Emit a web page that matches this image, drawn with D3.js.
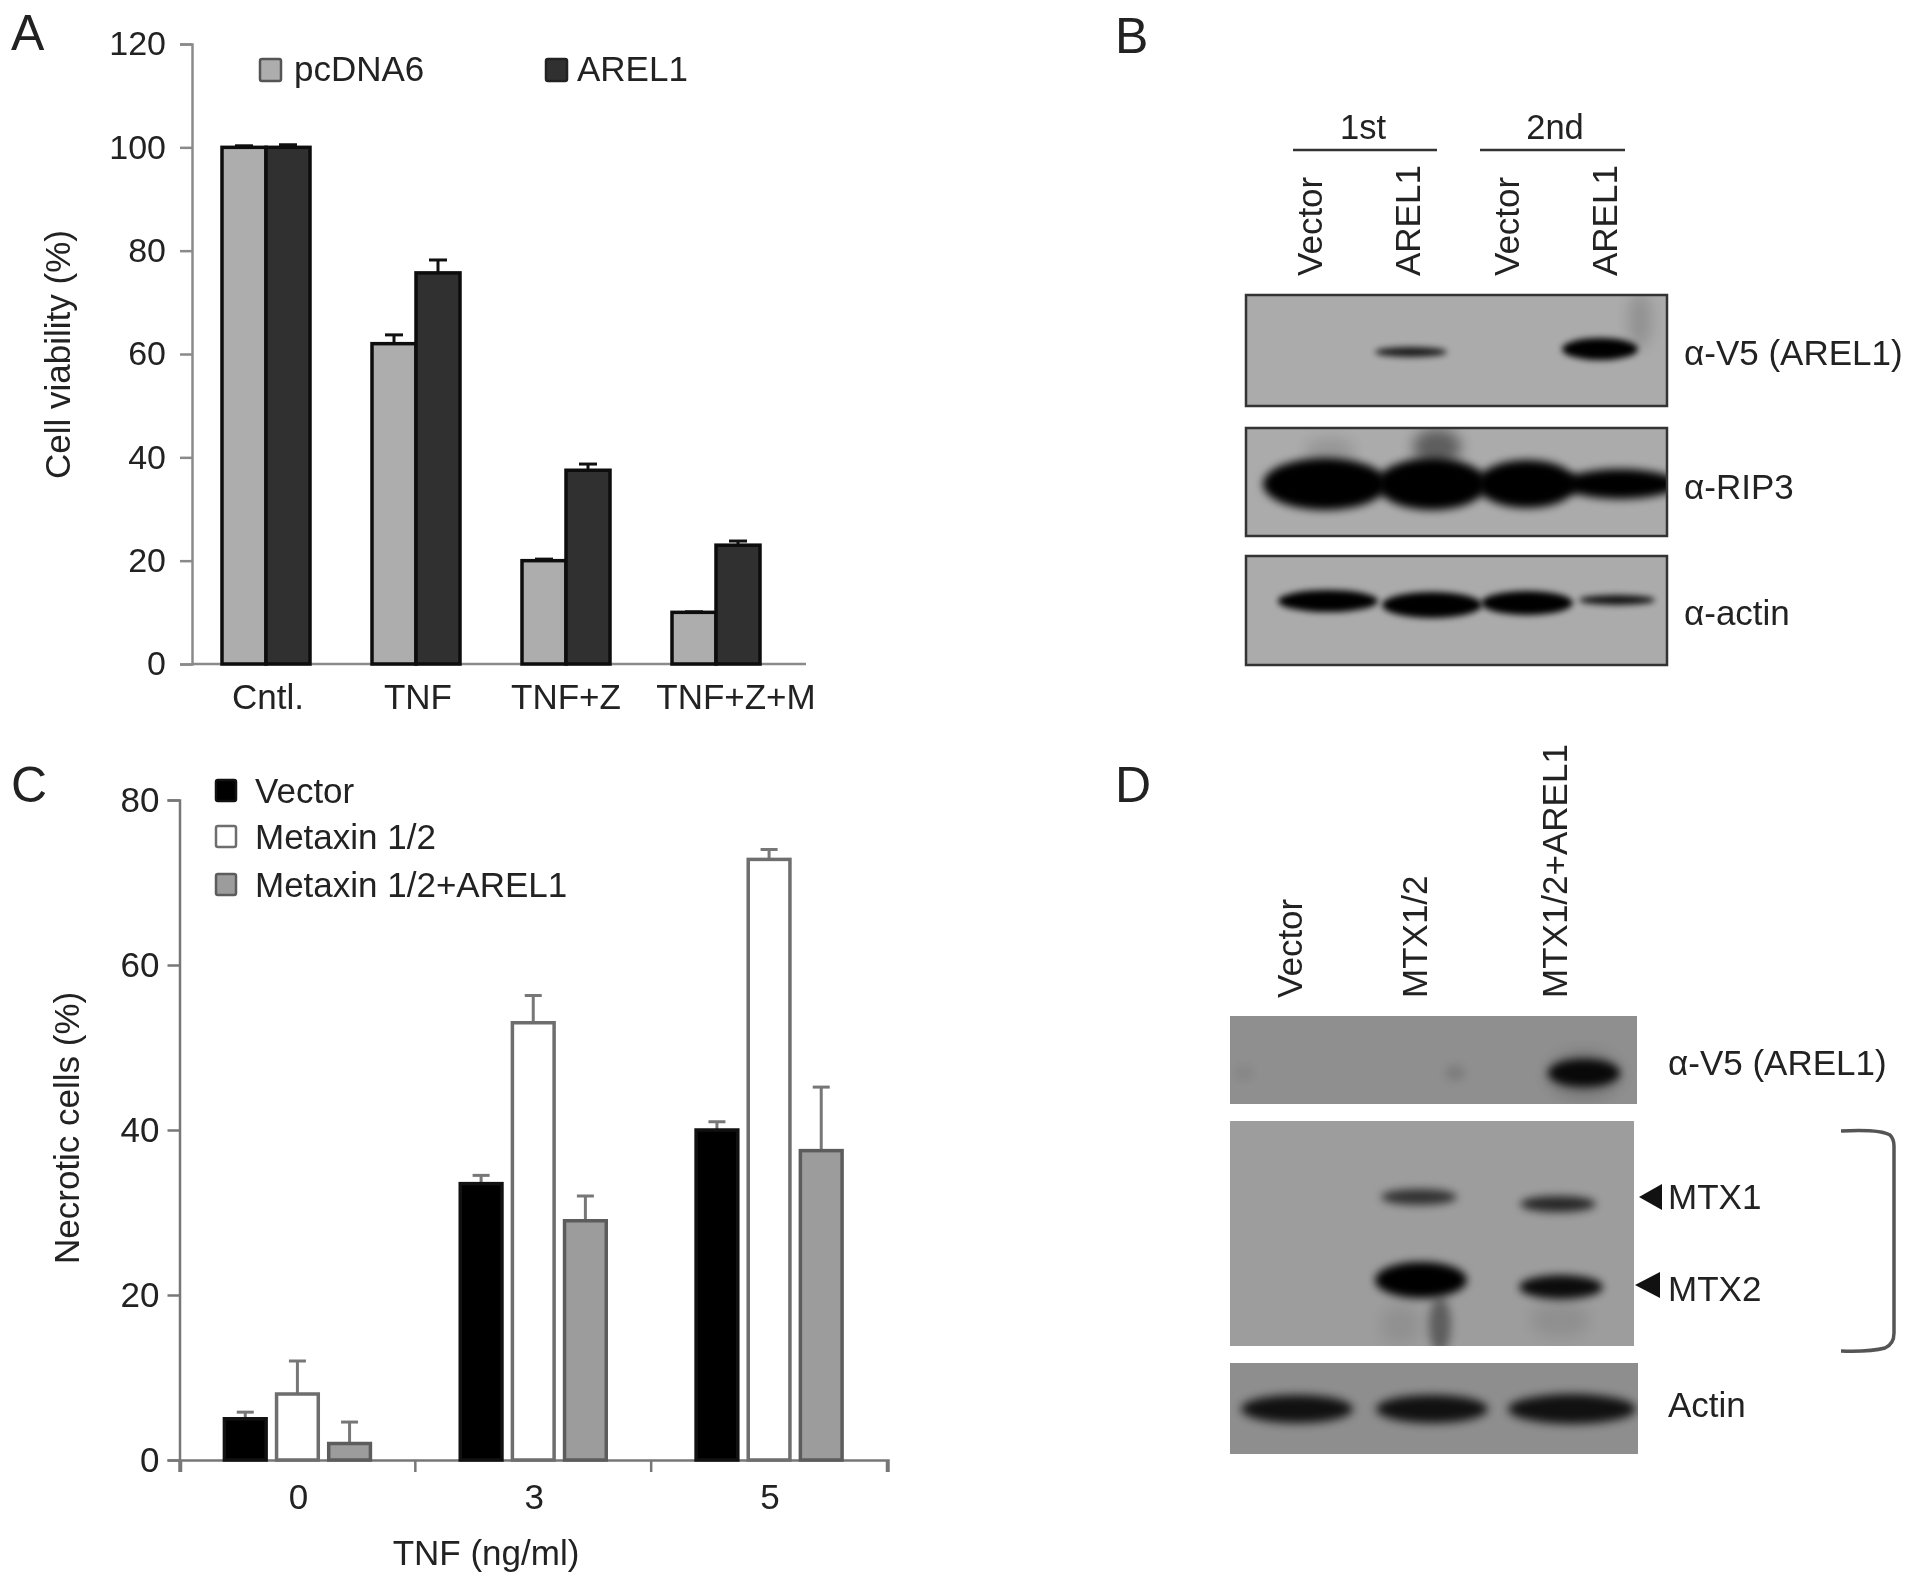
<!DOCTYPE html>
<html><head><meta charset="utf-8">
<script src="https://cdn.jsdelivr.net/npm/d3@7"></script>
<style>
html,body{margin:0;padding:0;background:#fff}
svg{display:block;filter:blur(0.6px)}
text{font-family:"Liberation Sans",Arial,sans-serif;fill:#222}
</style></head><body>
<svg id="fig" width="1913" height="1586"></svg>
<script>
// ---------- Panel A data ----------
const catsA = ["Cntl.","TNF","TNF+Z","TNF+Z+M"];
const seriesA = ["pcDNA6","AREL1"];
const pcDNA6 = [100,62,20,10];
const arel1 = [100,75.7,37.5,23];
const pcDNA6Err = [0.3,1.7,0.3,0.1];
const arel1Err = [0.5,2.5,1.2,0.8];
const ticksA = [0,20,40,60,80,100,120];
// ---------- Panel C data ----------
const catsC = ["0","3","5"];
const seriesC = ["Vector","Metaxin 1/2","Metaxin 1/2+AREL1"];
const vector = [5,33.5,40];
const metaxin = [8,53,72.8];
const metaxinArel = [2,29,37.5];
const vectorErr = [0.8,1,1];
const metaxinErr = [4,3.3,1.2];
const metaxinArelErr = [2.6,3,7.7];
const ticksC = [0,20,40,60,80];
// ---------- Blot labels ----------
const lanesB = ["Vector","AREL1","Vector","AREL1"];
const groupsB = ["1st","2nd"];
const probesB = ["α-V5 (AREL1)","α-RIP3","α-actin"];
const lanesD = ["Vector","MTX1/2","MTX1/2+AREL1"];
const probesD = ["α-V5 (AREL1)","MTX1","MTX2","Actin"];
// band densities per lane, read by eye
const densV5B = [0,0.85,0,1];
const densRIP3 = [1,1,1,1];
const densActinB = [1,1,1,0.9];
const densV5D = [0.05,0.12,0.92];
const densMTX1 = [0,0.68,0.75];
const densMTX2 = [0,1,0.92];
const densActinD = [0.88,0.88,0.88];

const svg = d3.select("#fig");
const FS = 35;
const defs = svg.append("defs");
[2,3,4,5,7,10].forEach(s=>{
  defs.append("filter").attr("id","b"+s).attr("x","-40%").attr("y","-150%").attr("width","180%").attr("height","400%")
    .append("feGaussianBlur").attr("stdDeviation",s);
});
function txt(g,x,y,s,o={}){
  const t=g.append("text").attr("x",x).attr("y",y).attr("font-size",o.size||FS).attr("text-anchor",o.anchor||"start").text(s);
  if(o.rot!=null) t.attr("transform",`rotate(${o.rot} ${x} ${y})`);
  return t;
}
// panel letters
const letterPos=[["A",11,50],["B",1115,53],["C",11,802],["D",1115,802]];
letterPos.forEach(d=>txt(svg,d[1],d[2],d[0],{size:50}));

// ========== Panel A ==========
(function(){
  const g=svg.append("g");
  const y=d3.scaleLinear().domain([0,120]).range([664,44]);
  const x=d3.scalePoint().domain(catsA).range([266,716]);
  const bw=44;
  const axC="#8a8a8a";
  const ax=g.append("g").attr("transform","translate(192,0)").call(d3.axisLeft(y).tickValues(ticksA).tickSize(12).tickPadding(14));
  ax.select(".domain").attr("stroke",axC).attr("stroke-width",2.5);
  ax.selectAll(".tick line").attr("stroke",axC).attr("stroke-width",2.5);
  ax.selectAll(".tick text").attr("font-size",34).attr("font-family",null);
  g.append("line").attr("x1",192).attr("x2",806).attr("y1",y(0)).attr("y2",y(0)).attr("stroke",axC).attr("stroke-width",2.5);
  const series=[{v:pcDNA6,e:pcDNA6Err,c:"#adadad",off:-bw},{v:arel1,e:arel1Err,c:"#303030",off:0}];
  series.forEach(s=>{
    catsA.forEach((c,i)=>{
      const bx=x(c)+s.off, cx=bx+bw/2, top=y(s.v[i]), et=y(s.v[i]+s.e[i]);
      g.append("line").attr("x1",cx).attr("x2",cx).attr("y1",top).attr("y2",et).attr("stroke","#111").attr("stroke-width",3);
      g.append("line").attr("x1",cx-9).attr("x2",cx+9).attr("y1",et).attr("y2",et).attr("stroke","#111").attr("stroke-width",3);
      g.append("rect").attr("x",bx).attr("y",top).attr("width",bw).attr("height",y(0)-top).attr("fill",s.c).attr("stroke","#0d0d0d").attr("stroke-width",3.5);
    });
  });
  const nudge=[2,2,0,20];
  catsA.forEach((c,i)=>txt(g,x(c)+nudge[i],709,c,{anchor:"middle"}));
  txt(g,70,479,"Cell viability (%)",{rot:-90,size:35});
  const lx=[[260,294],[546,577]];
  seriesA.forEach((s,i)=>{
    g.append("rect").attr("x",lx[i][0]).attr("y",59).attr("width",21).attr("height",22).attr("rx",2)
      .attr("fill",i?"#303030":"#adadad").attr("stroke",i?"#222":"#555").attr("stroke-width",2.5);
    txt(g,lx[i][1],81,s);
  });
})();

// ========== Panel C ==========
(function(){
  const g=svg.append("g");
  const y=d3.scaleLinear().domain([0,80]).range([1460,800]);
  const x=d3.scaleBand().domain(catsC).range([179.5,887]);
  const inner=d3.scaleBand().domain(seriesC).range([-73,73]).paddingInner(0.2).paddingOuter(0);
  const axC="#777";
  const ay=g.append("g").attr("transform","translate(179.5,0)").call(d3.axisLeft(y).tickValues(ticksC).tickSize(12).tickPadding(8));
  ay.select(".domain").attr("stroke",axC).attr("stroke-width",2.5);
  ay.selectAll(".tick line").attr("stroke",axC).attr("stroke-width",2.5);
  ay.selectAll(".tick text").attr("font-size",FS);
  const ax=g.append("g").attr("transform","translate(1,1460)").call(d3.axisBottom(x).tickSize(0).tickPadding(24).tickSizeOuter(12));
  ax.select(".domain").attr("stroke",axC).attr("stroke-width",2.5);
  ax.selectAll(".tick text").attr("font-size",FS);
  const edges=[...catsC.map(c=>x(c)),x.range()[1]];
  g.selectAll("line.sep").data(edges).join("line").attr("x1",d=>d).attr("x2",d=>d).attr("y1",1460).attr("y2",1472).attr("stroke",axC).attr("stroke-width",2.5);
  const st=[{v:vector,e:vectorErr,f:"#000",s:"#111"},{v:metaxin,e:metaxinErr,f:"#fff",s:"#6e6e6e"},{v:metaxinArel,e:metaxinArelErr,f:"#9c9c9c",s:"#5c5c5c"}];
  st.forEach((s,j)=>{
    catsC.forEach((c,i)=>{
      const bx=x(c)+x.bandwidth()/2+inner(seriesC[j]), bw=inner.bandwidth(), cx=bx+bw/2, top=y(s.v[i]), et=y(s.v[i]+s.e[i]);
      g.append("line").attr("x1",cx).attr("x2",cx).attr("y1",top).attr("y2",et).attr("stroke","#777").attr("stroke-width",3);
      g.append("line").attr("x1",cx-8.5).attr("x2",cx+8.5).attr("y1",et).attr("y2",et).attr("stroke","#777").attr("stroke-width",3);
      g.append("rect").attr("x",bx).attr("y",top).attr("width",bw).attr("height",y(0)-top).attr("fill",s.f).attr("stroke",s.s).attr("stroke-width",3.5);
    });
  });
  txt(g,79,1264,"Necrotic cells (%)",{rot:-90,size:35});
  txt(g,486,1565,"TNF (ng/ml)",{anchor:"middle",size:35});
  seriesC.forEach((s,i)=>{
    const ly=[790,836,884][i];
    g.append("rect").attr("x",216).attr("y",ly-10).attr("width",20).attr("height",21).attr("rx",2)
      .attr("fill",st[i].f).attr("stroke",st[i].s).attr("stroke-width",2.5);
    txt(g,255,ly+13,s);
  });
})();

// ========== Blots ==========
function blot(f,bands,smears){
  const g=svg.append("g");
  const cid="c"+Math.round(f.x+f.y);
  defs.append("clipPath").attr("id",cid).append("rect").attr("x",f.x).attr("y",f.y).attr("width",f.w).attr("height",f.h);
  g.append("rect").attr("x",f.x).attr("y",f.y).attr("width",f.w).attr("height",f.h).attr("fill",f.bg);
  const inn=g.append("g").attr("clip-path",`url(#${cid})`);
  (smears||[]).forEach(s=>inn.append("ellipse").attr("cx",s[0]).attr("cy",s[1]).attr("rx",s[2]).attr("ry",s[3])
    .attr("fill","#000").attr("opacity",s[4]).attr("filter",`url(#b${s[5]||10})`));
  bands.forEach(b=>{
    if(!b.d) return;
    inn.append("ellipse").attr("cx",b.cx).attr("cy",b.cy).attr("rx",b.rx).attr("ry",b.ry)
      .attr("fill","#050505").attr("opacity",b.d).attr("filter",`url(#b${b.blur||3})`);
  });
  if(f.stroke) g.append("rect").attr("x",f.x).attr("y",f.y).attr("width",f.w).attr("height",f.h).attr("fill","none").attr("stroke",f.stroke).attr("stroke-width",2.5);
  return inn;
}
function row(centers,dens,cy,rx,ry,blur){
  return dens.map((d,i)=>({cx:centers[i],cy:Array.isArray(cy)?cy[i]:cy,rx:Array.isArray(rx)?rx[i]:rx,ry:Array.isArray(ry)?ry[i]:ry,d,blur}));
}

// Panel B
(function(){
  const g=svg.append("g");
  const gl=[[1293,1437],[1480,1625]];
  const glx=[1363,1555];
  groupsB.forEach((s,i)=>{
    g.append("line").attr("x1",gl[i][0]).attr("x2",gl[i][1]).attr("y1",150).attr("y2",150).attr("stroke","#333").attr("stroke-width",2.5);
    txt(g,glx[i],139,s,{anchor:"middle",size:34.5});
  });
  const laneX=d3.scalePoint().domain(d3.range(4)).range([1321,1616]);
  lanesB.forEach((s,i)=>txt(g,laneX(i)+1,276,s,{rot:-90,size:35}));
  const fr=[{x:1246,y:295,w:421,h:111},{x:1246,y:428,w:421,h:108},{x:1246,y:556,w:421,h:109}];
  fr.forEach(f=>{f.bg="#ababab";f.stroke="#333";});
  blot(fr[0],row([1325,1411,1510,1600],densV5B,[351,352,351,349],[40,36,40,38],[4,5,4,11],3),[[1640,320,12,28,.14,7]]);
  blot(fr[1],[...row([1325,1432,1527,1620],densRIP3,[484,484,484,484],[62,55,50,58],[26,26,24,15],4)],[[1437,447,24,18,.45,7],[1330,450,25,12,.12,7]]);
  blot(fr[2],row([1328,1432,1527,1617],densActinB,[601,605,603,600],[50,50,46,38],[11,13,12,5],3));
  const py=[365,499,625];
  probesB.forEach((s,i)=>txt(g,1684,py[i],s,{size:35}));
})();

// Panel D
(function(){
  const g=svg.append("g");
  const laneX=[1290,1415,1555];
  lanesD.forEach((s,i)=>txt(g,laneX[i]+12,998,s,{rot:-90,size:35}));
  blot({x:1230,y:1016,w:407,h:88,bg:"#8f8f8f"},row([1244,1455,1584],densV5D,1073,[10,10,36],[8,8,14],4),[[1584,1075,38,24,.16,7]]);
  blot({x:1230,y:1121,w:404,h:225,bg:"#9d9d9d"},[
    ...row([1300,1419,1558],densMTX1,[1197,1197,1204],[40,38,38],[8,8,8],4),
    ...row([1300,1421,1561],densMTX2,[1280,1280,1287],[44,46,42],[15,18,12],4)
  ],[[1440,1325,11,28,.4,5],[1400,1325,20,20,.07,7],[1560,1320,30,18,.08,7]]);
  blot({x:1230,y:1363,w:408,h:91,bg:"#8e8e8e"},row([1297,1432,1572],densActinD,1409,[56,56,64],[14,14,15],5));
  const py=[1075,1209,1301,1417];
  probesD.forEach((s,i)=>txt(g,1668,py[i],s,{size:35}));
  const tri=d3.line();
  [[1639,1662,1197],[1635,1660,1285]].forEach(t=>g.append("path").attr("d",tri([[t[0],t[2]],[t[1],t[2]-13],[t[1],t[2]+13]])+"Z").attr("fill","#111"));
  g.append("path").attr("d","M1841,1131 Q1880,1129 1890,1135 Q1894,1139 1894,1146 L1894,1333 Q1894,1344 1885,1348 Q1870,1352 1841,1351")
    .attr("fill","none").attr("stroke","#555").attr("stroke-width",3.5);
})();
</script></body></html>
